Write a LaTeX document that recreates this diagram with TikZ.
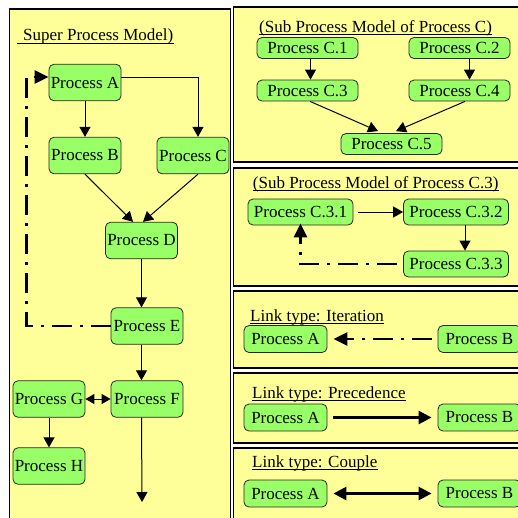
\documentclass[tikz,border=0pt]{standalone}
\usepackage{fontspec}
\setmainfont{Liberation Serif}
\usetikzlibrary{arrows.meta}
\definecolor{panelyellow}{HTML}{FFFF99}
\definecolor{procgreen}{HTML}{99FF66}
\begin{document}
\begin{tikzpicture}[x=1pt,y=-1pt,
  panel/.style={draw=black,line width=1.5pt,fill=panelyellow},
  proc/.style={draw=black!85,line width=0.8pt,fill=procgreen,rounded corners=5pt,
    inner sep=0pt,font=\fontsize{17}{20}\selectfont},
  bigproc/.style={proc,minimum width=72pt,minimum height=36.5pt},
  subproc/.style={proc,minimum width=101pt,minimum height=21pt},
  subsubproc/.style={proc,minimum width=105pt,minimum height=26pt},
  linkproc/.style={proc,minimum width=83pt,minimum height=27pt},
  heading/.style={anchor=base west,inner sep=0pt,font=\fontsize{17}{20}\selectfont},
  uline/.style={line width=0.9pt},
  flow/.style={line width=1pt,-{Triangle[length=10pt,width=11pt]}},
  iterate/.style={line width=2.6pt,dash pattern=on 20pt off 8pt on 3pt off 8pt,
    -{Triangle[length=14pt,width=13pt]}},
  precede/.style={line width=2.6pt,-{Triangle[length=13pt,width=13pt]}},
  couple/.style={line width=2.6pt,{Triangle[length=13pt,width=13pt]}-{Triangle[length=13pt,width=13pt]}},
  twoway/.style={line width=1pt,{Triangle[length=9pt,width=10pt]}-{Triangle[length=9pt,width=10pt]}}
]
\useasboundingbox (0,0) rectangle (518,517);
\begin{scope}
\clip (0,0) rectangle (518,517);

% panels
\draw[panel] (9.5,9) rectangle (230.5,530);
\draw[panel] (233.5,7) rectangle (530,162);
\draw[panel] (233.5,168) rectangle (530,286);
\draw[panel] (233.5,291) rectangle (530,368);
\draw[panel] (233.5,373) rectangle (530,443);
\draw[panel] (233.5,448) rectangle (530,530);

% ---- super process model ----
\node[heading] (t0) at (17,40.7) {\hspace{6pt}Super Process Model)};
\draw[uline] ([yshift=-2.6pt]t0.base west) -- ([yshift=-2.6pt]t0.base east);

\node[bigproc] (A) at (85,82.5) {Process A};
\node[bigproc] (B) at (85,155.5) {Process B};
\node[bigproc] (C) at (193,155.5) {Process C};
\node[bigproc] (D) at (141.5,240.5) {Process D};
\node[bigproc] (E) at (147,326) {Process E};
\node[bigproc] (F) at (147,399) {Process F};
\node[bigproc] (G) at (49,399) {Process G};
\node[bigproc] (H) at (49,466) {Process H};
\coordinate (fend) at (142,502);

\draw[flow] (A.south) -- (B.north);
\draw[flow] ([yshift=5.5pt]A.east) -| ([xshift=5pt]C.north);
\draw[flow] (B.south) -- ([xshift=-8.5pt]D.north);
\draw[flow] ([xshift=5pt]C.south) -- ([xshift=1.5pt]D.north);
\draw[flow] (D.south) -- (E.north -| D.south);
\draw[flow] (E.south -| D.south) -- (F.north -| D.south);
\draw[flow] (F.south -| D.south) -- (fend);
\draw[twoway] (G.east) -- (F.west);
\draw[flow] (G.south) -- (H.north);
\draw[iterate] (E.west) -| ([xshift=-22pt,yshift=5.5pt]A.west) -- ([yshift=5.5pt]A.west);

% ---- sub process model of C ----
\node[heading] (t1) at (259,32.7) {(Sub Process Model of Process C)};
\draw[uline] ([yshift=-2pt]t1.base west) -- ([yshift=-2pt]t1.base east);

\node[subproc] (C1) at (307.5,48) {Process C.1};
\node[subproc] (C2) at (459.5,48) {Process C.2};
\node[subproc] (C3) at (307.5,90.5) {Process C.3};
\node[subproc] (C4) at (459.5,90.5) {Process C.4};
\node[subproc] (C5) at (391.5,144) {Process C.5};

\draw[flow] ([xshift=3pt]C1.south) -- ([xshift=3pt]C3.north);
\draw[flow] ([xshift=10pt]C2.south) -- ([xshift=10pt]C4.north);
\draw[flow] ([xshift=2.5pt]C3.south) -- ([xshift=-13.5pt,yshift=2pt]C5.north);
\draw[flow] ([xshift=5.5pt]C4.south) -- ([xshift=4.5pt,yshift=2pt]C5.north);

% ---- sub process model of C.3 ----
\node[heading] (t2) at (252.7,188.3) {(Sub Process Model of Process C.3)};
\draw[uline] ([yshift=-2pt]t2.base west) -- ([yshift=-2pt]t2.base east);

\node[subsubproc] (C31) at (300.5,212) {Process C.3.1};
\node[subsubproc] (C32) at (456,212) {Process C.3.2};
\node[subsubproc] (C33) at (456,264) {Process C.3.3};

\draw[flow,shorten <=5pt] (C31.east) -- (C32.west);
\draw[flow] ([xshift=9pt]C32.south) -- ([xshift=9pt]C33.north);
\draw[iterate,shorten <=6pt] (C33.west) -| ([yshift=2pt]C31.south);

% ---- link types ----
\node[heading] (t3) at (250,321.7) {Link type: Iteration};
\draw[uline] ([yshift=-2pt]t3.base west) -- ([yshift=-2pt]t3.base east);
\node[linkproc] (IA) at (285.5,339) {Process A};
\node[linkproc] (IB) at (479.5,339) {Process B};
\draw[iterate,shorten <=6pt,shorten >=6pt] (IB.west) -- (IA.east);

\node[heading] (t4) at (252,398.3) {Link type: Precedence};
\draw[uline] ([yshift=-2pt]t4.base west) -- ([yshift=-2pt]t4.base east);
\node[linkproc] (PA) at (285.5,417.5) {Process A};
\node[linkproc] (PB) at (479.5,417.5) {Process B};
\draw[precede,shorten <=6pt,shorten >=6pt] (PA.east) -- (PB.west);

\node[heading] (t5) at (252,467.7) {Link type: Couple};
\draw[uline] ([yshift=-2pt]t5.base west) -- ([yshift=-2pt]t5.base east);
\node[linkproc] (KA) at (285.5,493.5) {Process A};
\node[linkproc] (KB) at (479.5,493.5) {Process B};
\draw[couple,shorten <=6pt,shorten >=6pt] (KA.east) -- (KB.west);
\end{scope}
\end{tikzpicture}
\end{document}
